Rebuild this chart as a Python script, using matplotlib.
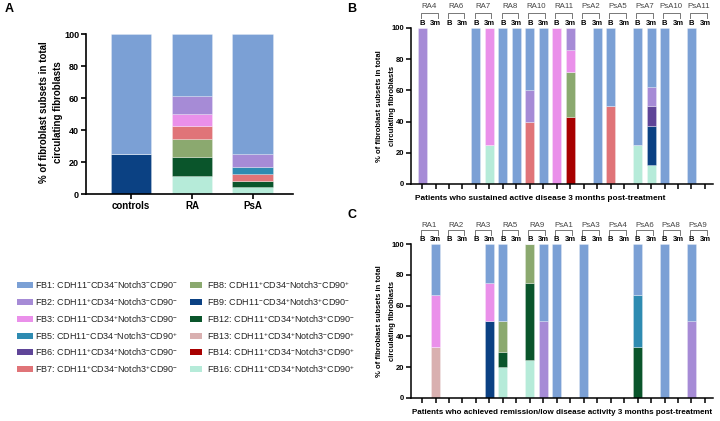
import numpy as np
import matplotlib
matplotlib.use("Agg")
import matplotlib.pyplot as plt
from matplotlib.patches import Rectangle

plt.rcParams["font.family"] = ["Liberation Sans", "DejaVu Sans"]
plt.rcParams["mathtext.default"] = "regular"

# subsets, bottom of stack first
subsets = ["FB16", "FB14", "FB13", "FB12", "FB9", "FB8", "FB7", "FB6", "FB5", "FB3", "FB2", "FB1"]
colors = {
    "FB1": "#7ba0d5", "FB2": "#a68bd6", "FB3": "#ea90ea", "FB5": "#2e8bb1",
    "FB6": "#5f4598", "FB7": "#e07478", "FB8": "#8ba96f", "FB9": "#0b4183",
    "FB12": "#0a552b", "FB13": "#d9b0b0", "FB14": "#a80000", "FB16": "#b6ebd9",
}
legend_col1 = [
    ("FB1", "FB1: CDH11$^{-}$CD34$^{-}$Notch3$^{-}$CD90$^{-}$"),
    ("FB2", "FB2: CDH11$^{+}$CD34$^{-}$Notch3$^{-}$CD90$^{-}$"),
    ("FB3", "FB3: CDH11$^{-}$CD34$^{+}$Notch3$^{-}$CD90$^{-}$"),
    ("FB5", "FB5: CDH11$^{-}$CD34$^{-}$Notch3$^{-}$CD90$^{+}$"),
    ("FB6", "FB6: CDH11$^{+}$CD34$^{+}$Notch3$^{-}$CD90$^{-}$"),
    ("FB7", "FB7: CDH11$^{+}$CD34$^{-}$Notch3$^{+}$CD90$^{-}$"),
]
legend_col2 = [
    ("FB8", "FB8: CDH11$^{+}$CD34$^{-}$Notch3$^{-}$CD90$^{+}$"),
    ("FB9", "FB9: CDH11$^{-}$CD34$^{+}$Notch3$^{+}$CD90$^{-}$"),
    ("FB12", "FB12: CDH11$^{+}$CD34$^{+}$Notch3$^{+}$CD90$^{-}$"),
    ("FB13", "FB13: CDH11$^{+}$CD34$^{+}$Notch3$^{-}$CD90$^{+}$"),
    ("FB14", "FB14: CDH11$^{+}$CD34$^{-}$Notch3$^{+}$CD90$^{+}$"),
    ("FB16", "FB16: CDH11$^{+}$CD34$^{+}$Notch3$^{+}$CD90$^{+}$"),
]

# panel A
a_groups = ["controls", "RA", "PsA"]
a_fb1 = [75, 38.6, 75]
a_fb2 = [0, 11.5, 8.33]
a_fb3 = [0, 7.7, 0]
a_fb5 = [0, 0, 4.17]
a_fb7 = [0, 7.7, 4.17]
a_fb8 = [0, 11.5, 0]
a_fb9 = [25, 0, 0]
a_fb12 = [0, 11.5, 4.17]
a_fb16 = [0, 11.5, 4.17]

# panel B (B, 3m per patient)
b_patients = ["RA4", "RA6", "RA7", "RA8", "RA10", "RA11", "PsA2", "PsA5", "PsA7", "PsA10", "PsA11"]
b_fb1 = [0, 0, 0, 0, 100, 0, 100, 100, 40, 100, 0, 0, 0, 100, 50, 0, 75, 37.5, 100, 0, 100, 0]
b_fb2 = [100, 0, 0, 0, 0, 0, 0, 0, 20, 0, 0, 14.3, 0, 0, 0, 0, 0, 12.5, 0, 0, 0, 0]
b_fb3 = [0, 0, 0, 0, 0, 75, 0, 0, 0, 0, 100, 14.3, 0, 0, 0, 0, 0, 0, 0, 0, 0, 0]
b_fb6 = [0, 0, 0, 0, 0, 0, 0, 0, 0, 0, 0, 0, 0, 0, 0, 0, 0, 12.5, 0, 0, 0, 0]
b_fb7 = [0, 0, 0, 0, 0, 0, 0, 0, 40, 0, 0, 0, 0, 0, 50, 0, 0, 0, 0, 0, 0, 0]
b_fb8 = [0, 0, 0, 0, 0, 0, 0, 0, 0, 0, 0, 28.6, 0, 0, 0, 0, 0, 0, 0, 0, 0, 0]
b_fb9 = [0, 0, 0, 0, 0, 0, 0, 0, 0, 0, 0, 0, 0, 0, 0, 0, 0, 25, 0, 0, 0, 0]
b_fb14 = [0, 0, 0, 0, 0, 0, 0, 0, 0, 0, 0, 42.9, 0, 0, 0, 0, 0, 0, 0, 0, 0, 0]
b_fb16 = [0, 0, 0, 0, 0, 25, 0, 0, 0, 0, 0, 0, 0, 0, 0, 0, 25, 12.5, 0, 0, 0, 0]

# panel C
c_patients = ["RA1", "RA2", "RA3", "RA5", "RA9", "PsA1", "PsA3", "PsA4", "PsA6", "PsA8", "PsA9"]
c_fb1 = [0, 33.3, 0, 0, 0, 25, 50, 0, 0, 50, 100, 0, 100, 0, 0, 0, 33.3, 0, 100, 0, 50, 0]
c_fb2 = [0, 0, 0, 0, 0, 0, 0, 0, 0, 50, 0, 0, 0, 0, 0, 0, 0, 0, 0, 0, 50, 0]
c_fb3 = [0, 33.3, 0, 0, 0, 25, 0, 0, 0, 0, 0, 0, 0, 0, 0, 0, 0, 0, 0, 0, 0, 0]
c_fb5 = [0, 0, 0, 0, 0, 0, 0, 0, 0, 0, 0, 0, 0, 0, 0, 0, 33.3, 0, 0, 0, 0, 0]
c_fb8 = [0, 0, 0, 0, 0, 0, 20, 0, 25, 0, 0, 0, 0, 0, 0, 0, 0, 0, 0, 0, 0, 0]
c_fb9 = [0, 0, 0, 0, 0, 50, 0, 0, 0, 0, 0, 0, 0, 0, 0, 0, 0, 0, 0, 0, 0, 0]
c_fb12 = [0, 0, 0, 0, 0, 0, 10, 0, 50, 0, 0, 0, 0, 0, 0, 0, 33.3, 0, 0, 0, 0, 0]
c_fb13 = [0, 33.3, 0, 0, 0, 0, 0, 0, 0, 0, 0, 0, 0, 0, 0, 0, 0, 0, 0, 0, 0, 0]
c_fb16 = [0, 0, 0, 0, 0, 0, 20, 0, 25, 0, 0, 0, 0, 0, 0, 0, 0, 0, 0, 0, 0, 0]

a_data = {"FB1": a_fb1, "FB2": a_fb2, "FB3": a_fb3, "FB5": a_fb5, "FB7": a_fb7,
          "FB8": a_fb8, "FB9": a_fb9, "FB12": a_fb12, "FB16": a_fb16}
b_data = {"FB1": b_fb1, "FB2": b_fb2, "FB3": b_fb3, "FB6": b_fb6, "FB7": b_fb7,
          "FB8": b_fb8, "FB9": b_fb9, "FB14": b_fb14, "FB16": b_fb16}
c_data = {"FB1": c_fb1, "FB2": c_fb2, "FB3": c_fb3, "FB5": c_fb5, "FB8": c_fb8,
          "FB9": c_fb9, "FB12": c_fb12, "FB13": c_fb13, "FB16": c_fb16}

ylab = "% of fibroblast subsets in total\ncirculating fibroblasts"


def stack(ax, x, data, width):
    bottom = np.zeros(len(x))
    for s in subsets:
        if s not in data:
            continue
        v = np.array(data[s], dtype=float)
        ax.bar(x, v, width, bottom=bottom, color=colors[s],
               edgecolor=(1, 1, 1, 0.35), linewidth=0.5)
        bottom += v


def style(ax, fs, lw=1.2):
    for sp in ["top", "right"]:
        ax.spines[sp].set_visible(False)
    for sp in ["left", "bottom"]:
        ax.spines[sp].set_linewidth(lw)
    ax.set_ylim(0, 100)
    ax.set_yticks(range(0, 101, 20))
    ax.tick_params(axis="both", width=lw, length=3.5, labelsize=fs, pad=1.5)
    for t in ax.get_yticklabels():
        t.set_fontweight("bold")


fig = plt.figure(figsize=(7.2, 4.21), dpi=100)

# ---- A
axA = fig.add_axes([86 / 720, 1 - 194 / 421, 207 / 720, 160 / 421])
xa = np.arange(len(a_groups))
stack(axA, xa, a_data, 0.67)
style(axA, 6.5)
axA.set_xlim(-0.74, 2.66)
axA.set_xticks(xa)
axA.set_xticklabels(a_groups, fontsize=7, fontweight="bold")
fig.text(51 / 720, 1 - 112 / 421, ylab, rotation=90, ha="center", va="center",
         fontsize=7, fontweight="bold", linespacing=1.5)
fig.text(5 / 720, 1 - 9 / 421, "A", fontsize=9, fontweight="bold", va="center")

# legend
rows_y = [285, 302, 319, 336, 352, 369]
for col, (px, pw, tx) in zip([legend_col1, legend_col2], [(17, 16, 35), (190, 12, 207)]):
    for (key, lab), y in zip(col, rows_y):
        fig.add_artist(Rectangle((px / 720, 1 - (y + 3) / 421), pw / 720, 6 / 421,
                                 transform=fig.transFigure, color=colors[key], lw=0))
        fig.text(tx / 720, 1 - y / 421, lab, fontsize=6.5, va="center", ha="left", color="#222222")


def panel(rect, patients, data, xlabel, xlab_x, xlab_y, xlab_fs, ylab_y, ytxt):
    ax = fig.add_axes(rect)
    x = np.arange(2 * len(patients))
    stack(ax, x, data, 0.67)
    style(ax, 5.5, lw=1.1)
    ax.set_xlim(-0.82, 21.6)
    ax.set_xticks(x)
    ax.set_xticklabels([])
    tr = ax.get_xaxis_transform()
    for i, p in enumerate(patients):
        x0 = 2 * i - 0.1
        x1 = 2 * i + 1.15
        ax.plot([x0, x0, x1, x1], [ytxt[2], ytxt[1], ytxt[1], ytxt[2]], transform=tr,
                color="#777777", lw=0.7, clip_on=False)
        ax.text(2 * i + 0.5, ytxt[0], p, transform=tr, ha="center", va="center",
                fontsize=5.7, color="#444444")
        ax.text(2 * i, ytxt[3], "B", transform=tr, ha="center", va="center",
                fontsize=5.5, fontweight="bold")
        ax.text(2 * i + 1, ytxt[3], "3m", transform=tr, ha="center", va="center",
                fontsize=5.5, fontweight="bold")
    fig.text(xlab_x / 720, 1 - xlab_y / 421, xlabel, ha="center", va="center",
             fontsize=xlab_fs, fontweight="bold")
    fig.text(386 / 720, 1 - ylab_y / 421, ylab, rotation=90, ha="center", va="center",
             fontsize=5.5, fontweight="bold", linespacing=2.2)
    return ax


panel([411 / 720, 1 - 184 / 421, 302 / 720, 156 / 421], b_patients, b_data,
      "Patients who sustained active disease 3 months post-treatment", 540, 199, 5.95, 106,
      (1.135, 1.096, 1.066, 1.028))
fig.text(347 / 720, 1 - 9 / 421, "B", fontsize=9, fontweight="bold", va="center")

panel([411 / 720, 1 - 398 / 421, 302 / 720, 154 / 421], c_patients, c_data,
      "Patients who achieved remission/low disease activity 3 months post-treatment", 562, 413, 5.8, 321,
      (1.123, 1.09, 1.058, 1.026))
fig.text(347 / 720, 1 - 215 / 421, "C", fontsize=9, fontweight="bold", va="center")

fig.savefig("out.png", dpi=100)
